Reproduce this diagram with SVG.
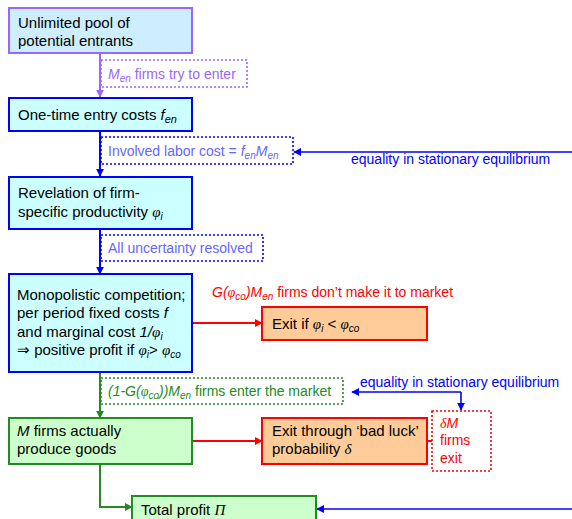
<svg xmlns="http://www.w3.org/2000/svg" width="572" height="519" viewBox="0 0 572 519">
<style>
text{font-family:"Liberation Sans",Arial,sans-serif;}
.t{font-size:15px;fill:#000;}
.l{font-size:14px;}
.m{font-family:"Liberation Serif","Times New Roman",serif;font-style:italic;}
.i{font-style:italic;}
.bx{stroke-width:2;}
.dot{fill:none;stroke-width:1.6;stroke-dasharray:2,2;}
</style>
<defs>
<marker id="aP" viewBox="0 0 10 10" refX="9" refY="5" markerWidth="4" markerHeight="4" orient="auto"><path d="M0,0L10,5L0,10z" fill="#9966ff"/></marker>
<marker id="aB" viewBox="0 0 10 10" refX="9" refY="5" markerWidth="4" markerHeight="4" orient="auto"><path d="M0,0L10,5L0,10z" fill="#0000ff"/></marker>
<marker id="aB2" viewBox="0 0 10 10" refX="9" refY="5" markerWidth="5" markerHeight="5" orient="auto"><path d="M0,0L10,5L0,10z" fill="#0000ff"/></marker>
<marker id="aR" viewBox="0 0 10 10" refX="9" refY="5" markerWidth="4" markerHeight="4" orient="auto"><path d="M0,0L10,5L0,10z" fill="#ff0000"/></marker>
<marker id="aG" viewBox="0 0 10 10" refX="9" refY="5" markerWidth="4" markerHeight="4" orient="auto"><path d="M0,0L10,5L0,10z" fill="#228b22"/></marker>
</defs>

<g id="connectors" fill="none">
<path d="M100,53V97" stroke="#9966ff" stroke-width="2" marker-end="url(#aP)"/>
<path d="M100,131V176" stroke="#0000ff" stroke-width="2" marker-end="url(#aB)"/>
<path d="M100,229V274" stroke="#0000ff" stroke-width="2" marker-end="url(#aB)"/>
<path d="M100,372V418" stroke="#228b22" stroke-width="2" marker-end="url(#aG)"/>
<path d="M100,464V507H132" stroke="#228b22" stroke-width="2" marker-end="url(#aG)"/>
<path d="M192,323H262" stroke="#ff0000" stroke-width="2" marker-end="url(#aR)"/>
<path d="M192,441H262" stroke="#ff0000" stroke-width="2" marker-end="url(#aR)"/>
<path d="M427,441H432" stroke="#ff0000" stroke-width="2"/>
<path d="M572,152H294" stroke="#0000ff" stroke-width="1.6" marker-end="url(#aB2)"/>
<path d="M461,392H352" stroke="#0000ff" stroke-width="1.6" marker-end="url(#aB2)"/>
<path d="M461,392V410" stroke="#0000ff" stroke-width="1.6" marker-end="url(#aB2)"/>
<path d="M572,509H317" stroke="#0000ff" stroke-width="1.6" marker-end="url(#aB2)"/>
</g>

<g id="labels">
<rect class="dot" x="101" y="60" width="146" height="27" stroke="#9966ff"/>
<text class="l" x="108" y="79" fill="#9966ff"><tspan class="i">M</tspan><tspan class="i" font-size="10" dy="3">en</tspan><tspan dy="-3"> firms try to enter</tspan></text>

<rect class="dot" x="101" y="137" width="192" height="27" stroke="#0000ff"/>
<text class="l" x="108" y="156" fill="#6666ff">Involved labor cost = <tspan class="i">f</tspan><tspan class="i" font-size="10" dy="3">en</tspan><tspan class="i" dy="-3">M</tspan><tspan class="i" font-size="10" dy="3">en</tspan></text>
<text class="l" x="351" y="164" fill="#0000ff">equality in stationary equilibrium</text>

<rect class="dot" x="101" y="235" width="162" height="26" stroke="#0000ff"/>
<text class="l" x="108" y="253" fill="#6666ff">All uncertainty resolved</text>

<text class="l" x="212" y="297" fill="#ff0000"><tspan class="i">G(</tspan><tspan class="m">φ</tspan><tspan class="i" font-size="10" dy="3">co</tspan><tspan class="i" dy="-3">)M</tspan><tspan class="i" font-size="10" dy="3">en</tspan><tspan dy="-3"> firms don’t make it to market</tspan></text>

<rect class="dot" x="101" y="378" width="242" height="26" stroke="#228b22"/>
<text class="l" x="108" y="396" fill="#228b22"><tspan class="i">(1-G(</tspan><tspan class="m">φ</tspan><tspan class="i" font-size="10" dy="3">co</tspan><tspan class="i" dy="-3">))M</tspan><tspan class="i" font-size="10" dy="3">en</tspan><tspan dy="-3"> firms enter the market</tspan></text>
<text class="l" x="360" y="387" fill="#0000ff">equality in stationary equilibrium</text>
</g>

<g id="n1">
<rect class="bx" x="9" y="8" width="183" height="45" fill="#cceeff" stroke="#9966ff"/>
<text class="t" x="18" y="28">Unlimited pool of</text>
<text class="t" x="18" y="46">potential entrants</text>
</g>

<g id="n2">
<rect class="bx" x="9" y="98" width="183" height="33" fill="#ccffff" stroke="#0000ff"/>
<text class="t" x="18" y="120">One-time entry costs <tspan class="i">f</tspan><tspan class="i" font-size="11" dy="3">en</tspan></text>
</g>

<g id="n3">
<rect class="bx" x="9" y="177" width="183" height="52" fill="#ccffff" stroke="#0000ff"/>
<text class="t" x="18" y="198">Revelation of firm-</text>
<text class="t" x="18" y="217">specific productivity <tspan class="m">φ</tspan><tspan class="i" font-size="10" dy="3">i</tspan></text>
</g>

<g id="n4">
<rect class="bx" x="9" y="274" width="183" height="98" fill="#ccffff" stroke="#0000ff"/>
<text class="t" x="17" y="300">Monopolistic competition;</text>
<text class="t" x="17" y="318">per period fixed costs <tspan class="i">f</tspan></text>
<text class="t" x="17" y="337">and marginal cost <tspan class="i">1/</tspan><tspan class="m">φ</tspan><tspan class="i" font-size="10" dy="3">i</tspan></text>
<text class="t" x="17" y="355">⇒ positive profit if <tspan class="m">φ</tspan><tspan class="i" font-size="10" dy="3">i</tspan><tspan dy="-3">&gt; </tspan><tspan class="m">φ</tspan><tspan class="i" font-size="10" dy="3">co</tspan></text>
</g>

<g id="n5">
<rect class="bx" x="262" y="307" width="165" height="33" fill="#ffcc99" stroke="#ff0000"/>
<text class="t" x="272" y="329">Exit if <tspan class="m">φ</tspan><tspan class="i" font-size="10" dy="3">i</tspan><tspan dy="-3"> &lt; </tspan><tspan class="m">φ</tspan><tspan class="i" font-size="10" dy="3">co</tspan></text>
</g>

<g id="n6">
<rect class="bx" x="9" y="418" width="183" height="46" fill="#ccffcc" stroke="#228b22"/>
<text class="t" x="17" y="436"><tspan class="i">M</tspan> firms actually</text>
<text class="t" x="17" y="454">produce goods</text>
</g>

<g id="n7">
<rect class="bx" x="262" y="418" width="165" height="46" fill="#ffcc99" stroke="#ff0000"/>
<text class="t" x="272" y="436">Exit through ‘bad luck’</text>
<text class="t" x="272" y="454">probability <tspan class="m">δ</tspan></text>
</g>

<g id="n8">
<rect class="dot" x="432" y="411" width="59" height="60" stroke="#ff0000"/>
<text class="l" x="440" y="428" fill="#ff0000"><tspan class="m">δ</tspan><tspan class="i">M</tspan></text>
<text class="l" x="440" y="445" fill="#ff0000">firms</text>
<text class="l" x="440" y="463" fill="#ff0000">exit</text>
</g>

<g id="n9">
<rect class="bx" x="132" y="496" width="184" height="40" fill="#ccffcc" stroke="#228b22"/>
<text class="t" x="141" y="515">Total profit <tspan class="m">Π</tspan></text>
</g>
</svg>
